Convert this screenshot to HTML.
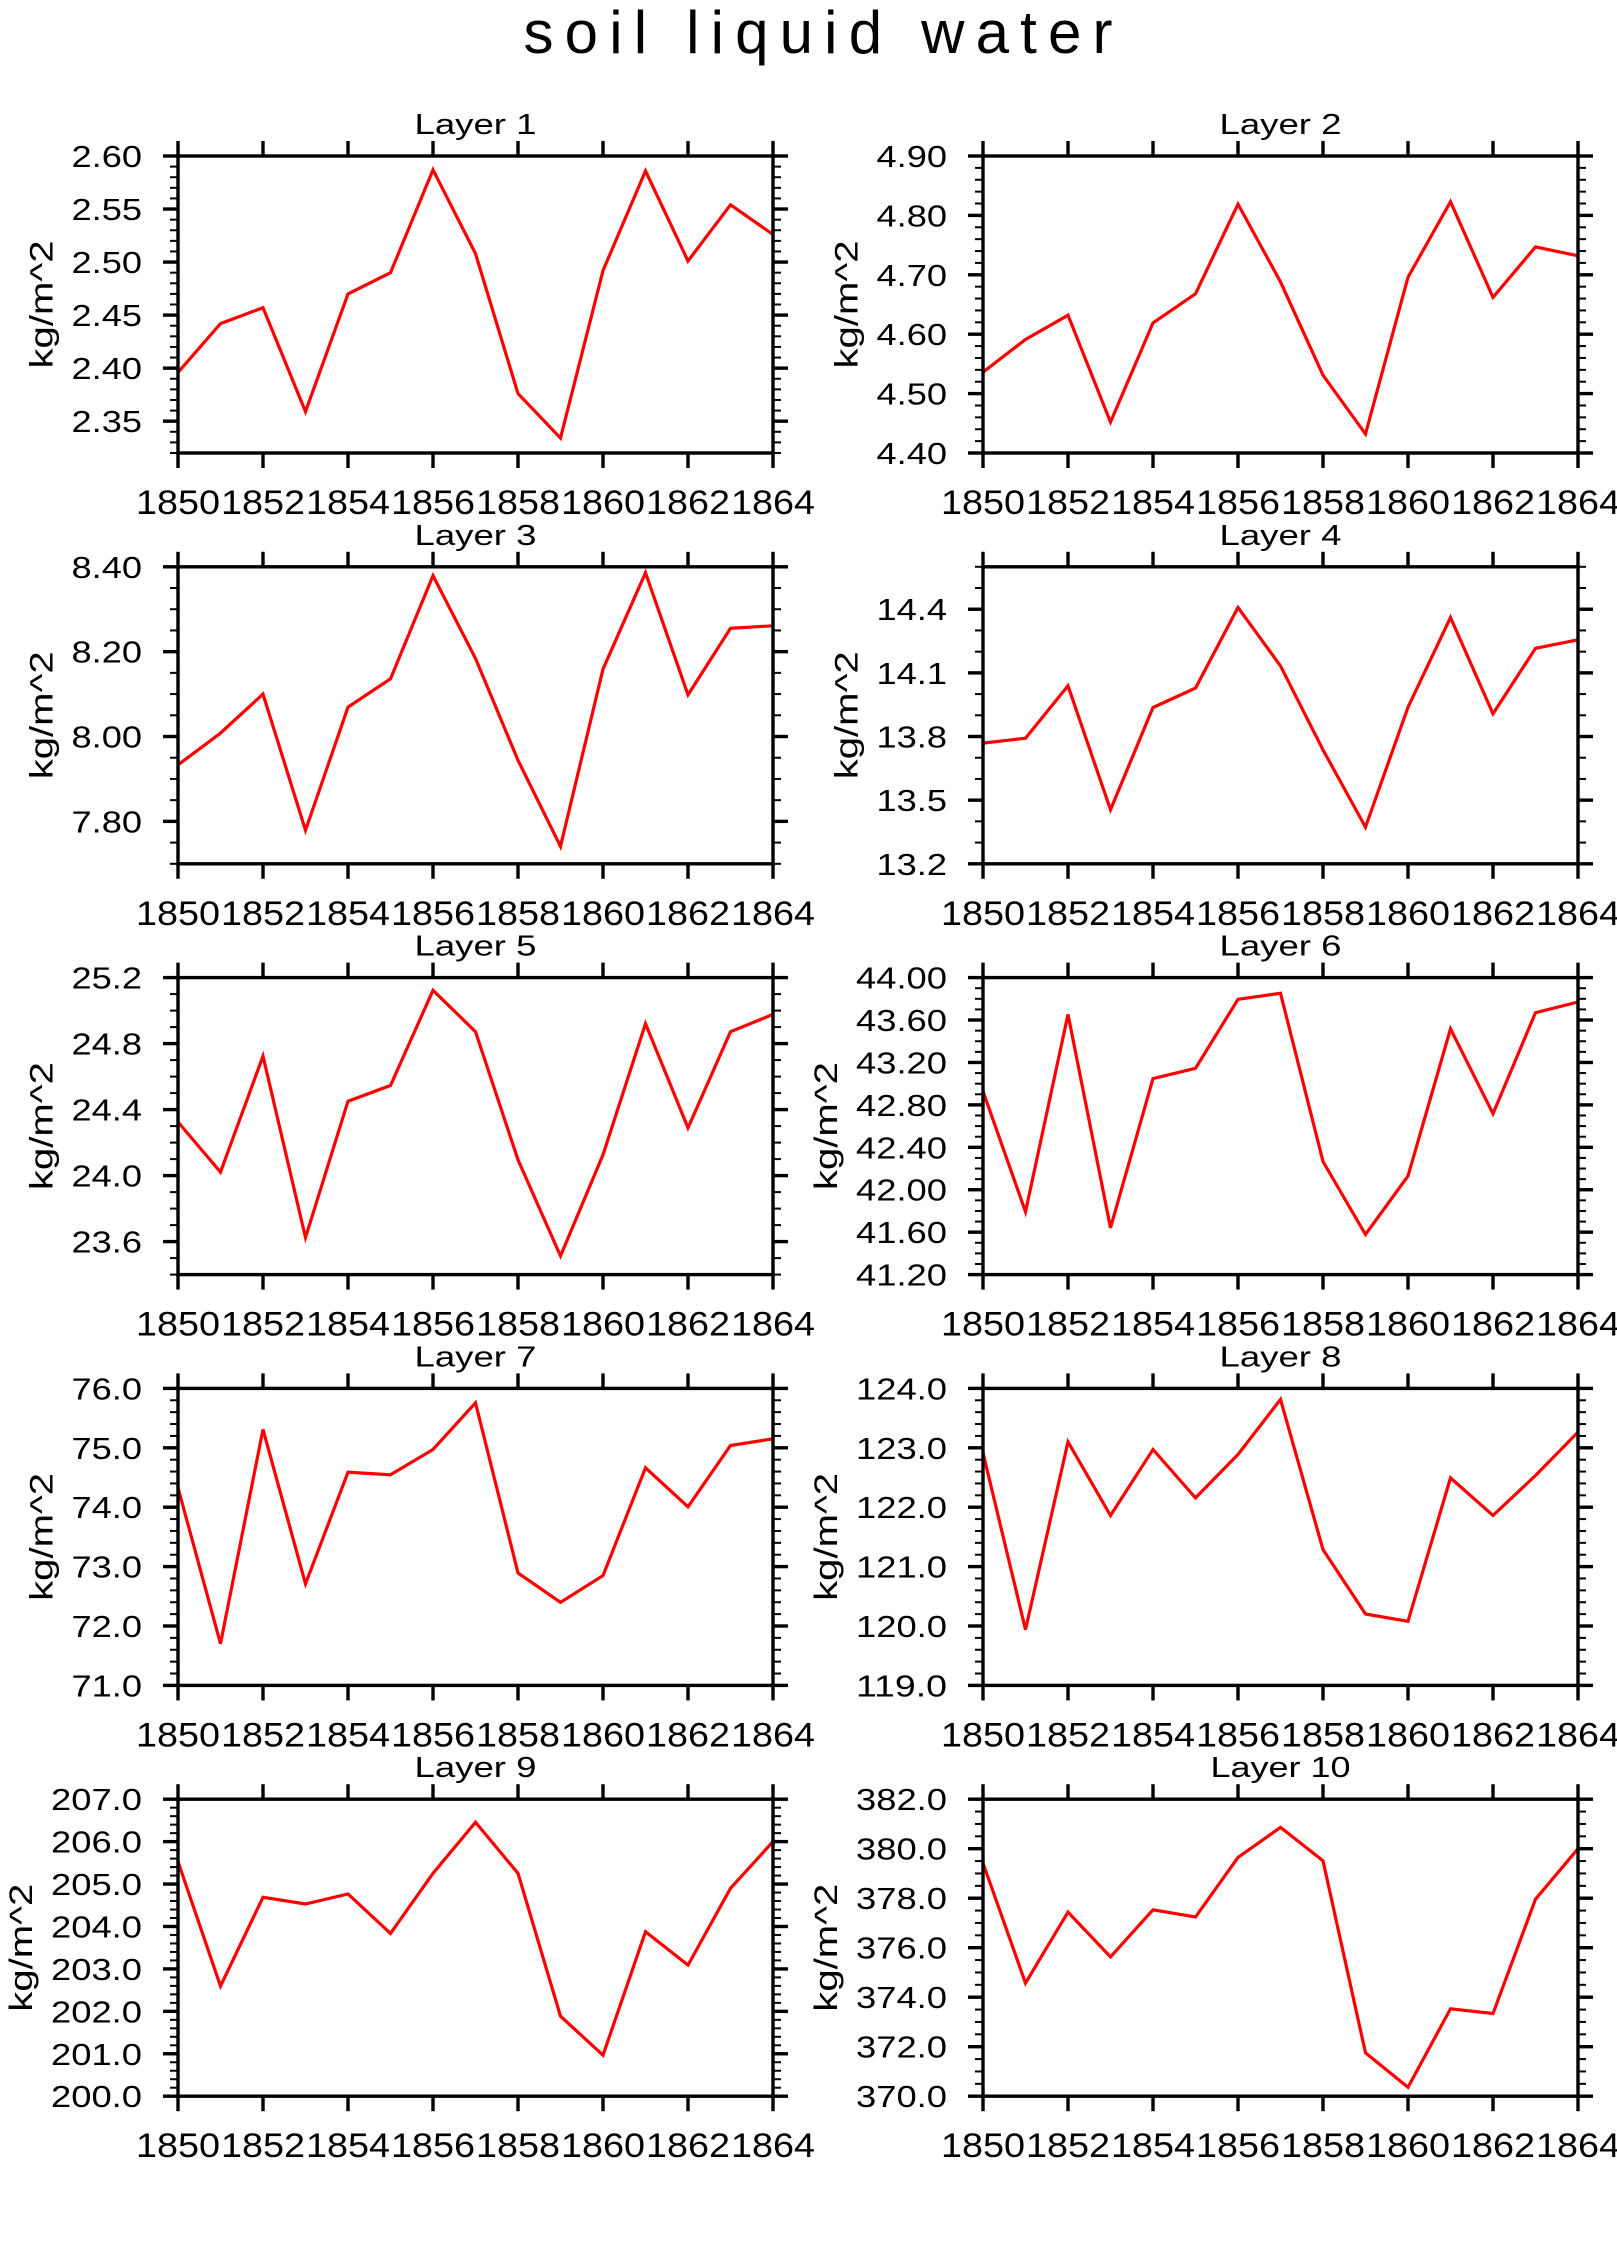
<!DOCTYPE html>
<html><head><meta charset="utf-8"><title>soil liquid water</title>
<style>
html,body{margin:0;padding:0;background:#fff;}
svg{display:block;}
text{font-family:"Liberation Sans",sans-serif;fill:#000;}
</style></head>
<body>
<svg id="chart" width="1617" height="2266" viewBox="0 0 1617 2266" xmlns="http://www.w3.org/2000/svg">
<text x="818" y="53" font-size="60" text-anchor="middle" textLength="589" lengthAdjust="spacing">soil liquid water</text>
</svg>
<script>
const years = [1850,1851,1852,1853,1854,1855,1856,1857,1858,1859,1860,1861,1862,1863,1864];
const xTickLabels = ["1850","1852","1854","1856","1858","1860","1862","1864"];
const layerNames = ["Layer 1","Layer 2","Layer 3","Layer 4","Layer 5","Layer 6","Layer 7","Layer 8","Layer 9","Layer 10"];
const layer1Values = [2.396,2.442,2.457,2.359,2.470,2.490,2.587,2.508,2.376,2.334,2.492,2.586,2.501,2.554,2.526];
const layer2Values = [4.536,4.591,4.632,4.452,4.619,4.668,4.819,4.688,4.531,4.432,4.696,4.823,4.662,4.747,4.732];
const layer3Values = [7.933,8.008,8.100,7.779,8.069,8.136,8.379,8.184,7.944,7.741,8.159,8.386,8.098,8.255,8.261];
const layer4Values = [13.769,13.792,14.039,13.455,13.937,14.028,14.408,14.133,13.737,13.373,13.938,14.361,13.907,14.216,14.256];
const layer5Values = [24.325,24.021,24.724,23.624,24.451,24.546,25.123,24.872,24.096,23.513,24.126,24.921,24.289,24.872,24.977];
const layer6Values = [42.928,41.792,43.653,41.641,43.048,43.145,43.795,43.852,42.266,41.578,42.130,43.517,42.717,43.669,43.770];
const layer7Values = [74.326,71.702,75.309,72.708,74.590,74.545,74.972,75.758,72.893,72.399,72.848,74.663,74.006,75.039,75.152];
const layer8Values = [122.916,119.938,123.101,121.860,122.972,122.157,122.888,123.815,121.287,120.202,120.079,122.494,121.860,122.534,123.264];
const layer9Values = [205.529,202.594,204.687,204.530,204.766,203.837,205.253,206.457,205.253,201.886,200.966,203.877,203.090,204.900,206.001];
const layer10Values = [379.42,374.57,377.44,375.63,377.53,377.24,379.65,380.86,379.51,371.75,370.36,373.53,373.34,377.96,380.00];
const yMins = [2.32,4.40,7.70,13.2,23.4,41.2,71.0,119.0,200.0,370.0];
const yMaxs = [2.60,4.90,8.40,14.6,25.2,44.0,76.0,124.0,207.0,382.0];
const yMajorSteps = [0.05,0.1,0.2,0.3,0.4,0.4,1,1,1,2];
const yMinorSteps = [0.01,0.02,0.05,0.1,0.1,0.1,0.2,0.2,0.2,0.5];
const yDecimals = [2,2,2,1,1,2,1,1,1,1];

const allValues = [layer1Values,layer2Values,layer3Values,layer4Values,layer5Values,layer6Values,layer7Values,layer8Values,layer9Values,layer10Values];
const NS = "http://www.w3.org/2000/svg";
const svg = document.getElementById("chart");
const PW = 595, PH = 297;
const colX = [178, 983];
function mk(tag, attrs, parent){
  const e = document.createElementNS(NS, tag);
  for (const k in attrs) e.setAttribute(k, attrs[k]);
  parent.appendChild(e);
  return e;
}
function labelWidth(s){
  let w = 0;
  for (const c of s) w += (c === ".") ? 9 : 20.5;
  return w;
}
for (let p = 0; p < 10; p++){
  const col = p % 2, row = Math.floor(p / 2);
  const L = colX[col], T = 156 + row * 410.8, R = L + PW, B = T + PH;
  const yMin = yMins[p], yMax = yMaxs[p];
  const xs = v => L + (v - years[0]) / (years[years.length-1] - years[0]) * PW;
  const ys = v => B - (v - yMin) / (yMax - yMin) * PH;
  const g = mk("g", {}, svg);
  
  

  const title = mk("text", {x: L + PW/2, y: T - 22, "font-size": 29, "text-anchor": "middle", textLength: layerNames[p].length > 7 ? 140 : 122, lengthAdjust: "spacingAndGlyphs"}, g);
  
  
  title.textContent = layerNames[p];

  const nMin = Math.round((yMax - yMin) / yMinorSteps[p]);
  for (let k = 0; k <= nMin; k++){
    const v = yMin + k * yMinorSteps[p];
    const y = ys(v);
    const t1 = mk("line", {x1: L - 8, x2: L, y1: y, y2: y, stroke: "#000", "stroke-width": 2}, g);
    
    
    const t2 = mk("line", {x1: R, x2: R + 8, y1: y, y2: y, stroke: "#000", "stroke-width": 2}, g);
    
    
  }
  const st = yMajorSteps[p];
  const kStart = Math.ceil(yMin / st - 1e-6), kEnd = Math.floor(yMax / st + 1e-6);
  let maxW = 0;
  for (let k = kStart; k <= kEnd; k++){
    const v = k * st;
    const y = ys(v);
    const a = mk("line", {x1: L - 15, x2: L, y1: y, y2: y, stroke: "#000", "stroke-width": 3.4}, g);
    
    
    const b = mk("line", {x1: R, x2: R + 15, y1: y, y2: y, stroke: "#000", "stroke-width": 3.4}, g);
    
    
    const s = v.toFixed(yDecimals[p]);
    const w = labelWidth(s);
    maxW = Math.max(maxW, w);
    const tl = mk("text", {x: L - 36, y: y + 11, "font-size": 31, "text-anchor": "end", textLength: w, lengthAdjust: "spacingAndGlyphs"}, g);
    
    
    tl.textContent = s;
  }
  const cx = L - 36 - maxW - 30, cy = T + PH/2;
  const yt = mk("text", {x: cx, y: cy, "font-size": 32, "text-anchor": "middle", transform: "rotate(-90 " + cx + " " + cy + ")", dy: 11, textLength: 128, lengthAdjust: "spacingAndGlyphs"}, g);
  
  
  yt.textContent = "kg/m^2";

  for (let i = 0; i < xTickLabels.length; i++){
    const x = xs(parseInt(xTickLabels[i], 10));
    const tb = mk("line", {x1: x, x2: x, y1: B, y2: B + 15, stroke: "#000", "stroke-width": 3.4}, g);
    
    
    const tt = mk("line", {x1: x, x2: x, y1: T - 15, y2: T, stroke: "#000", "stroke-width": 3.4}, g);
    
    
    const xl = mk("text", {x: x, y: B + 61, "font-size": 34, "text-anchor": "middle", textLength: 84, lengthAdjust: "spacingAndGlyphs"}, g);
    
    
    xl.textContent = xTickLabels[i];
  }

  const vals = allValues[p];
  let d = "";
  for (let i = 0; i < vals.length; i++){
    d += (i ? "L" : "M") + xs(years[i]).toFixed(1) + " " + ys(vals[i]).toFixed(1);
  }
  const line = mk("path", {d: d, fill: "none", stroke: "#ff0000", "stroke-width": 3.2, "stroke-linejoin": "miter"}, g);
  
  

  const fr = mk("rect", {x: L, y: T, width: PW, height: PH, fill: "none", stroke: "#000", "stroke-width": 3.4}, g);
  
  
}
</script>
</body></html>
